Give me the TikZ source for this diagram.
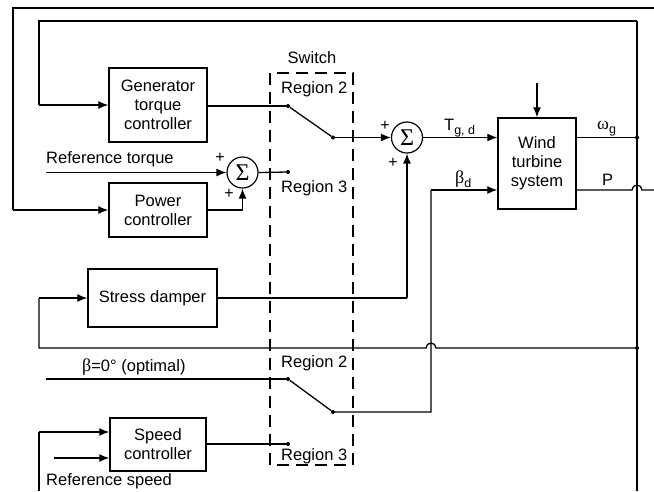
\documentclass[tikz,border=0pt]{standalone}
\usepackage{fontspec}
\setmainfont{Liberation Sans}
\newfontfamily\grk{Liberation Serif}
\usetikzlibrary{arrows.meta}
\newcommand{\sbs}[1]{\raisebox{-4pt}{\fontsize{12.5}{12.5}\selectfont #1}}
\begin{document}
\begin{tikzpicture}[x=1pt,y=-1pt,
  blk/.style={draw,line width=1.4pt,inner sep=0pt,align=center,font=\fontsize{16.5}{19}\selectfont},
  sumc/.style={draw,circle,line width=1.2pt,minimum size=31pt,inner sep=0pt,font=\fontsize{24}{24}\selectfont\grk},
  ln/.style={line width=1.3pt},
  thk/.style={line width=2pt},
  arr/.style={ln,-{Latex[length=10pt,width=8pt]}},
  lbl/.style={inner sep=0pt,font=\fontsize{16.5}{19}\selectfont},
  sml/.style={inner sep=0pt,font=\fontsize{16}{16}\selectfont},
  dot/.style={circle,fill,inner sep=0pt,minimum size=4pt},
]
\useasboundingbox (0,0) rectangle (654,491);

% blocks
\node[blk,minimum width=98pt,minimum height=74pt] (gen) at (158,105) {Generator\\torque\\controller};
\node[blk,minimum width=98pt,minimum height=54pt] (pow) at (158,210) {Power\\controller};
\node[blk,minimum width=129pt,minimum height=58pt] (sd) at (152.5,298) {Stress damper};
\node[blk,minimum width=96pt,minimum height=53pt] (spd) at (158,444.5) {Speed\\controller};
\node[blk,minimum width=78pt,minimum height=91pt] (wt) at (537,163.5) {Wind\\turbine\\system};

% summing junctions
\node[sumc] (s1) at (242.5,172.5) {Σ};
\node[sumc] (s2) at (407,137.5) {Σ};

% switch contacts
\node[dot] (a1) at (288,106) {};
\node[dot] (b1) at (288,172) {};
\node[dot] (c1) at (333,137.5) {};
\node[dot] (a2) at (288,379) {};
\node[dot] (b2) at (288,444) {};
\node[dot] (c2) at (333,412) {};
\node[dot] (j1) at (637,137.5) {};
\node[dot] (j2) at (637,348) {};

% coordinates
\coordinate (o1) at (13,8);
\coordinate (o2) at (654,8);
\coordinate (i1) at (39,21);
\coordinate (i2) at (637,21);
\coordinate (ib) at (637,491);
\coordinate (rt) at (46,172.5);
\coordinate (rb) at (46,379);
\coordinate (sdl) at (39,348);
\coordinate (spl) at (39,491);
\coordinate (rs) at (54,458);
\coordinate (wtop) at (537,83);
\coordinate (pe) at (654,190);

% switch box
\draw[line width=1.8pt,dash pattern=on 12pt off 7pt] (270,465) -- (270,73) -- (353,73) -- (353,465) -- cycle;
\node[lbl] (swl) at (312,58) {Switch};
\node[lbl,anchor=base west] (r2a) at (281,93) {Region 2};
\node[lbl,anchor=base west] (r3a) at (281,192) {Region 3};
\node[lbl,anchor=base west] (r2b) at (281,367) {Region 2};
\node[lbl,anchor=base west] (r3b) at (281,460) {Region 3};

% outer feedback loops
\draw[ln] (o2) -- (o1) -- (o1 |- pow.west);
\draw[arr] (o1 |- pow.west) -- (pow.west);
\draw[ln] (i2) -- (i1) -- (i1 |- gen.west);
\draw[arr] (i1 |- gen.west) -- (gen.west);
\draw[ln] (i2) -- (ib);

% generator / switch 1
\draw[thk] (gen.east |- a1) -- (a1);
\draw[ln] (a1) -- (c1);
\draw[arr] (c1) -- (s2.west);
\draw[arr] (rt) -- (s1.west);
\draw[ln] (s1.east) -- (b1);
\draw[ln] (pow.east) -- (pow.east -| s1);
\draw[arr] (pow.east -| s1) -- (s1.south);
\node[sml,anchor=base] (p1) at (220,162) {+};
\node[sml,anchor=base] (p2) at (229,198) {+};
\node[sml,anchor=base] (p3) at (385,130) {+};
\node[sml,anchor=base] (p4) at (393,167) {+};

\node[lbl,anchor=base west] (rtl) at (46,163) {Reference torque};

% into wind turbine
\draw[arr] (s2.east) -- (wt.west |- s2);
\node[lbl,anchor=base west] (tgd) at (444,130) {T\sbs{g, d}};
\draw[arr] (wtop) -- (wt.north);
\draw[ln] (wt.east |- j1) -- (j1);
\node[lbl,anchor=base west] (wg) at (597,129) {{\fontsize{18}{18}\selectfont\grk ω}\sbs{g}};
\draw[ln] (wt.east |- pe) -- (632,190) arc[start angle=180,end angle=0,radius=5pt] -- (pe);
\node[lbl,anchor=base west] (pl) at (602,185) {P};

% stress damper
\draw[ln] (sd.east) -- (sd.east -| s2);
\draw[arr] (sd.east -| s2) -- (s2.south);
\draw[ln] (j2) -- (436,348) arc[start angle=0,end angle=180,radius=5pt] -- (sdl) -- (sdl |- sd.west);
\draw[arr] (sdl |- sd.west) -- (sd.west);

% pitch path
\draw[ln] (rb) -- (a2);
\node[lbl,anchor=base west] (bl) at (82,371) {{\fontsize{18}{18}\selectfont\grk β}=0° (optimal)};
\draw[ln] (a2) -- (c2) -- (431,412) -- (431,190);
\draw[arr] (431,190) -- (wt.west |- pe);
\node[lbl,anchor=base west] (bd) at (455,183) {{\fontsize{18}{18}\selectfont\grk β}\sbs{d}};

% speed controller
\draw[ln] (spd.east |- b2) -- (b2);
\draw[ln] (spl) -- (spl |- 0,432);
\draw[arr] (spl |- 0,432) -- (spd.west |- 0,432);
\draw[arr] (rs) -- (spd.west |- rs);
\node[lbl,anchor=base west] (rsl) at (46,485) {Reference speed};
\end{tikzpicture}
\end{document}
